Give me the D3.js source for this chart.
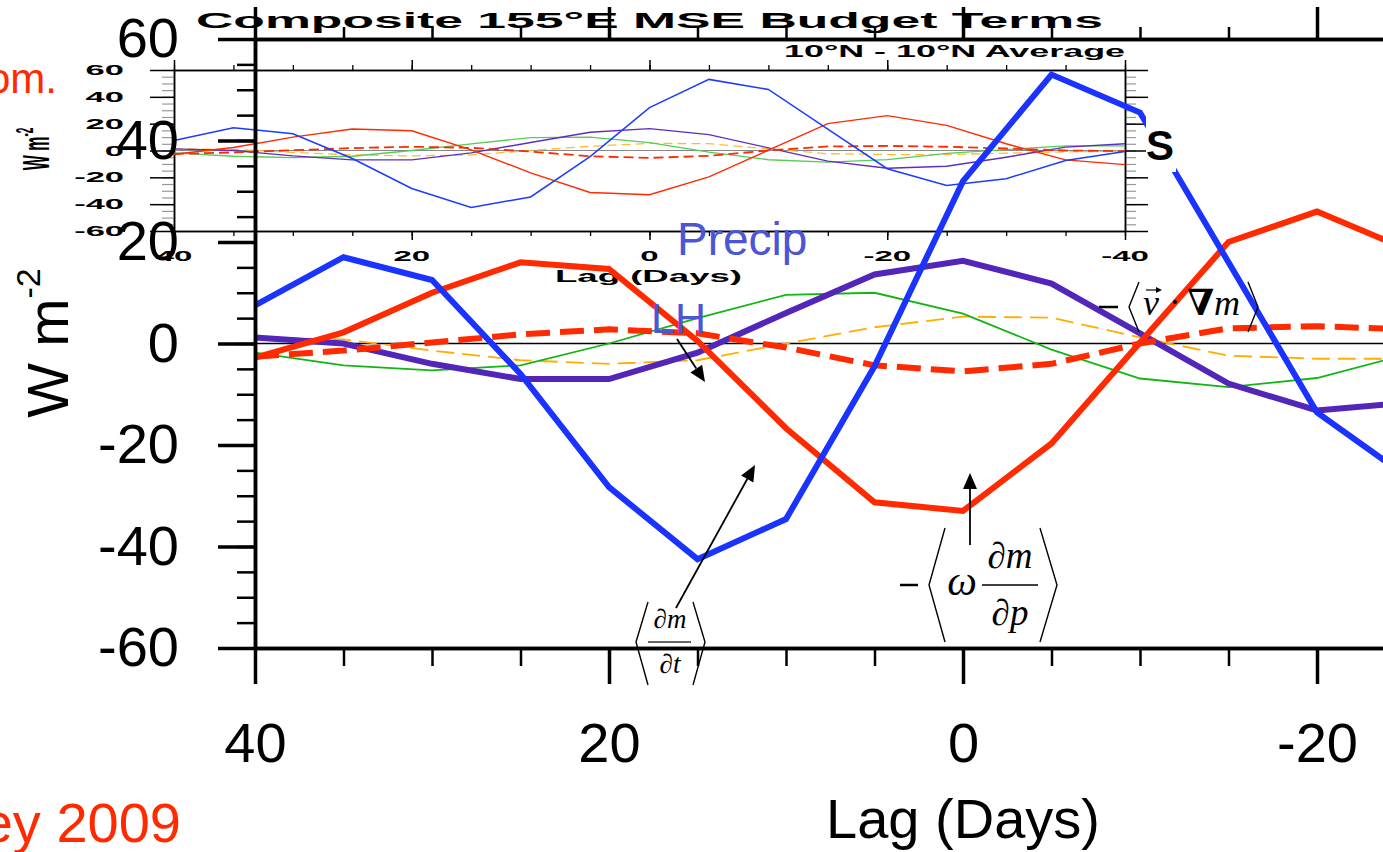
<!DOCTYPE html>
<html>
<head>
<meta charset="utf-8">
<script src="https://cdn.jsdelivr.net/npm/d3@7"></script>
<style>
  html, body { margin: 0; padding: 0; background: #fff; overflow: hidden; }
  svg { display: block; font-family: "Liberation Sans", Arial, Helvetica, sans-serif; }
</style>
</head>
<body>
<div id="chart"></div>
<script>

/* Composite 155E MSE budget terms (lag composite).
 * The big panel is a zoom of the small inset, so both use the same numbers.
 */

var lags = [40, 35, 30, 25, 20, 15, 10, 5, 0, -5, -10, -15, -20, -25, -30, -35, -40];

var dmdt       = [7.5, 17, 12.5, -6, -28.3, -42.5, -34.6, -4.5, 32, 53, 45.5, 16, -13.6, -26, -21, -7.5, -0.7];
var omegaDmdp  = [-2.8, 2.2, 10, 16, 14.7, 0.5, -16.7, -31.3, -33, -19.7, 0.2, 20, 26, 18.7, 5, -7, -10.5];
var vGradM     = [-2.6, -1.4, 0.2, 1.8, 2.8, 2, -0.8, -4.3, -5.5, -4, 0, 3, 3.4, 2.8, 1.5, 0, -0.5];
var latentHeat = [1.2, 0, -4, -7, -7, -1.8, 6, 13.6, 16.3, 11.8, 2, -7.9, -13.2, -11.7, -5, 2.5, 5];
var longwave   = [-1.8, -4.3, -5.3, -4.3, 0, 5, 9.6, 10, 5.9, -1.2, -6.9, -8.6, -6.8, -2.2, 0.7, 3.5, 3.5];
var sensible   = [1.2, 0.8, -1.4, -3.3, -4, -3.3, 0, 3.2, 5.3, 5.1, 1.2, -2.4, -3, -3, -2, -1, -0.5];

var xMajor = [40, 20, 0, -20, -40];
var xMinor = [40, 35, 30, 25, 20, 15, 10, 5, 0, -5, -10, -15, -20, -25, -30, -35, -40];
var xLabels = ["40", "20", "0", "-20", "-40"];

var yMajor = [-60, -40, -20, 0, 20, 40, 60];
var yMinor = [-60, -55, -50, -45, -40, -35, -30, -25, -20, -15, -10, -5, 0, 5, 10, 15, 20, 25, 30, 35, 40, 45, 50, 55, 60];
var yLabels = ["-60", "-40", "-20", "0", "20", "40", "60"];

var W = 1383, H = 852;

var svg = d3.select("#chart").append("svg")
    .attr("width", W)
    .attr("height", H);

var fmtX = function(d) { return xLabels[xMajor.indexOf(d)]; };
var fmtY = function(d) { return yLabels[yMajor.indexOf(d)]; };

/* series drawing order and looks, main panel / inset */
var series = [
    { vals: sensible,   color: "#ffad00", w: 1.8, dash: "18,8",  iColor: "#ffbb33", iw: 1.3, iDash: "9,5" },
    { vals: longwave,   color: "#14b414", w: 1.8, dash: null,    iColor: "#55cc55", iw: 1.3, iDash: null },
    { vals: latentHeat, color: "#5226b8", w: 6,   dash: null,    iColor: "#5a30c2", iw: 1.4, iDash: null },
    { vals: vGradM,     color: "#ff2a00", w: 6,   dash: "24,10", iColor: "#ff2a00", iw: 1.8, iDash: "10,5" },
    { vals: omegaDmdp,  color: "#ff2a00", w: 6,   dash: null,    iColor: "#ff2a00", iw: 1.4, iDash: null },
    { vals: dmdt,       color: "#1a33ff", w: 6,   dash: null,    iColor: "#1a3cff", iw: 1.5, iDash: null }
];

/* ---------------- inset (original small plot) ---------------- */

var ix = d3.scaleLinear().domain([40, -40]).range([174, 1125]);
var iy = d3.scaleLinear().domain([-60, 60]).range([231, 70]);

var inset = svg.append("g").attr("class", "inset");

var styleAxis = function(g, color, width) {
    g.select(".domain").attr("stroke", "#000").attr("stroke-width", 1.5);
    g.selectAll(".tick line").attr("stroke", color).attr("stroke-width", width);
};

// minor ticks first so majors sit on top
inset.append("g").attr("transform", "translate(" + ix(40) + ",0)")
    .call(d3.axisLeft(iy).tickValues(yMinor).tickSize(12).tickSizeOuter(0).tickFormat(""))
    .call(styleAxis, "#999", 1.2);
inset.append("g").attr("transform", "translate(" + ix(40) + ",0)")
    .call(d3.axisLeft(iy).tickValues(yMajor).tickSize(24).tickSizeOuter(0).tickFormat(""))
    .call(styleAxis, "#000", 1.5);
inset.append("g").attr("transform", "translate(" + ix(-40) + ",0)")
    .call(d3.axisRight(iy).tickValues(yMinor).tickSize(11).tickSizeOuter(0).tickFormat(""))
    .call(styleAxis, "#999", 1.2);
inset.append("g").attr("transform", "translate(" + ix(-40) + ",0)")
    .call(d3.axisRight(iy).tickValues(yMajor).tickSize(23).tickSizeOuter(0).tickFormat(""))
    .call(styleAxis, "#000", 1.5);
inset.append("g").attr("transform", "translate(0," + iy(60) + ")")
    .call(d3.axisTop(ix).tickValues(xMinor).tickSize(5).tickSizeOuter(0).tickFormat(""))
    .call(styleAxis, "#000", 1.3);
inset.append("g").attr("transform", "translate(0," + iy(60) + ")")
    .call(d3.axisTop(ix).tickValues(xMajor).tickSize(10).tickSizeOuter(0).tickFormat(""))
    .call(styleAxis, "#000", 1.5);
inset.append("g").attr("transform", "translate(0," + iy(-60) + ")")
    .call(d3.axisBottom(ix).tickValues(xMinor).tickSize(5).tickSizeOuter(0).tickFormat(""))
    .call(styleAxis, "#000", 1.3);
inset.append("g").attr("transform", "translate(0," + iy(-60) + ")")
    .call(d3.axisBottom(ix).tickValues(xMajor).tickSize(9).tickSizeOuter(0).tickFormat(""))
    .call(styleAxis, "#000", 1.5);

// inset text is stretched sideways like the squashed original
inset.selectAll("text.iylab")
    .data(yMajor)
    .enter().append("text")
    .attr("class", "iylab")
    .attr("transform", function(d) { return "translate(124," + (iy(d) + 5) + ") scale(2.3,1)"; })
    .attr("text-anchor", "end")
    .style("font-size", "15px")
    .style("font-weight", "bold")
    .text(fmtY);

inset.selectAll("text.ixlab")
    .data(xMajor)
    .enter().append("text")
    .attr("class", "ixlab")
    .attr("transform", function(d) { return "translate(" + ix(d) + ",261) scale(2.2,1)"; })
    .attr("text-anchor", "middle")
    .style("font-size", "15px")
    .style("font-weight", "bold")
    .text(fmtX);

inset.append("text")
    .attr("x", 196).attr("y", 28)
    .attr("textLength", 907).attr("lengthAdjust", "spacingAndGlyphs")
    .style("font-size", "22px").style("font-weight", "bold")
    .text("Composite 155°E MSE Budget Terms");

inset.append("text")
    .attr("x", 784).attr("y", 57)
    .attr("textLength", 341).attr("lengthAdjust", "spacingAndGlyphs")
    .style("font-size", "16px").style("font-weight", "bold")
    .text("10°N - 10°N Average");

inset.append("text")
    .attr("x", 555).attr("y", 282)
    .attr("textLength", 187).attr("lengthAdjust", "spacingAndGlyphs")
    .style("font-size", "16px").style("font-weight", "bold")
    .text("Lag (Days)");

var iyTitle = inset.append("text")
    .attr("transform", "translate(49,149) rotate(-90) scale(1,2.3)")
    .attr("text-anchor", "middle")
    .style("font-size", "16px").style("font-weight", "bold");
iyTitle.append("tspan").text("W m");
iyTitle.append("tspan").attr("dy", -7).style("font-size", "10px").text("-2");

inset.append("line")
    .attr("x1", ix(40)).attr("x2", ix(-40))
    .attr("y1", iy(0)).attr("y2", iy(0))
    .attr("stroke", "#888").attr("stroke-width", 1.2);

var iLine = d3.line()
    .x(function(d, i) { return ix(lags[i]); })
    .y(function(d) { return iy(d); });

series.forEach(function(s) {
    inset.append("path")
        .datum(s.vals)
        .attr("d", iLine)
        .attr("fill", "none")
        .attr("stroke", s.iColor)
        .attr("stroke-width", s.iw)
        .attr("stroke-dasharray", s.iDash);
});

/* ---------------- main panel ---------------- */

var x = d3.scaleLinear().domain([40, -40]).range([255, 1671]);
var y = d3.scaleLinear().domain([-60, 60]).range([648, 39]);

var main = svg.append("g").attr("class", "main");

main.append("line")
    .attr("x1", x(40)).attr("x2", x(-40))
    .attr("y1", y(0)).attr("y2", y(0))
    .attr("stroke", "#000").attr("stroke-width", 1.5);

var line = d3.line()
    .x(function(d, i) { return x(lags[i]); })
    .y(function(d) { return y(d); });

series.forEach(function(s) {
    main.append("path")
        .datum(s.vals)
        .attr("d", line)
        .attr("fill", "none")
        .attr("stroke", s.color)
        .attr("stroke-width", s.w)
        .attr("stroke-dasharray", s.dash)
        .attr("stroke-linejoin", "miter");
});

// the "S" label sits on a white patch over the blue line
main.append("rect")
    .attr("x", 1146).attr("y", 112).attr("width", 30).attr("height", 60)
    .attr("fill", "#fff");
main.append("text")
    .attr("x", 1146).attr("y", 160)
    .style("font-size", "42px").style("font-weight", "bold")
    .text("S");

var mainAxis = function(g, width) {
    g.select(".domain").attr("stroke", "#000").attr("stroke-width", 3.5);
    g.selectAll(".tick line").attr("stroke", "#000").attr("stroke-width", width);
    g.selectAll(".tick text")
        .attr("fill", "#000")
        .style("font-family", "'Liberation Sans', Arial, sans-serif")
        .style("font-size", "56px");
};

main.append("g").attr("transform", "translate(" + x(40) + ",0)")
    .call(d3.axisLeft(y).tickValues(yMinor).tickSize(18).tickSizeOuter(0).tickFormat(""))
    .call(mainAxis, 2.5);
main.append("g").attr("transform", "translate(" + x(40) + ",0)")
    .call(d3.axisLeft(y).tickValues(yMajor).tickSize(37).tickPadding(39).tickSizeOuter(0).tickFormat(fmtY))
    .call(mainAxis, 3.5);
main.append("g").attr("transform", "translate(0," + y(60) + ")")
    .call(d3.axisTop(x).tickValues(xMinor).tickSize(12).tickSizeOuter(0).tickFormat(""))
    .call(mainAxis, 2.5);
main.append("g").attr("transform", "translate(0," + y(60) + ")")
    .call(d3.axisTop(x).tickValues(xMajor).tickSize(32).tickSizeOuter(0).tickFormat(""))
    .call(mainAxis, 3.5);
main.append("g").attr("transform", "translate(0," + y(-60) + ")")
    .call(d3.axisBottom(x).tickValues(xMinor).tickSize(18).tickSizeOuter(0).tickFormat(""))
    .call(mainAxis, 2.5);
main.append("g").attr("transform", "translate(0," + y(-60) + ")")
    .call(d3.axisBottom(x).tickValues(xMajor).tickSize(36).tickPadding(38).tickSizeOuter(0).tickFormat(fmtX))
    .call(mainAxis, 3.5);

main.append("text")
    .attr("x", x(0)).attr("y", 838)
    .attr("text-anchor", "middle")
    .style("font-size", "56px")
    .text("Lag (Days)");

var yTitle = main.append("text")
    .attr("transform", "translate(68,343) rotate(-90)")
    .attr("text-anchor", "middle")
    .style("font-size", "58px");
yTitle.append("tspan").text("W m");
yTitle.append("tspan").attr("dy", -28).style("font-size", "34px").text("-2");

/* ---------------- annotations ---------------- */

var labelBlue = "#4b55d6";

main.append("text")
    .attr("x", 677).attr("y", 255)
    .attr("fill", labelBlue)
    .style("font-size", "46px")
    .text("Precip");

main.append("text")
    .attr("x", 651).attr("y", 333)
    .attr("fill", labelBlue)
    .style("font-size", "43px")
    .text("LH");

var arrow = function(x1, y1, x2, y2) {
    var a = Math.atan2(y2 - y1, x2 - x1),
        len = 16, half = 7;
    var bx = x2 - len * Math.cos(a), by = y2 - len * Math.sin(a);
    main.append("line")
        .attr("x1", x1).attr("y1", y1).attr("x2", bx).attr("y2", by)
        .attr("stroke", "#000").attr("stroke-width", 1.8);
    main.append("path")
        .attr("d", "M" + x2 + "," + y2 +
            "L" + (bx + half * Math.sin(a)) + "," + (by - half * Math.cos(a)) +
            "L" + (bx - half * Math.sin(a)) + "," + (by + half * Math.cos(a)) + "Z")
        .attr("fill", "#000");
};

arrow(677, 339, 705, 382);
arrow(676, 608, 755, 465);
arrow(970, 545, 970, 473);

var serif = "'Liberation Serif', 'DejaVu Serif', 'Times New Roman', serif";

var mathText = function(g, tx, ty, size, str, anchor, weight, style) {
    return g.append("text")
        .attr("x", tx).attr("y", ty)
        .attr("text-anchor", anchor || "middle")
        .style("font-family", serif)
        .style("font-size", size + "px")
        .style("font-style", style || "italic")
        .style("font-weight", weight || "normal")
        .text(str);
};

var bracket = function(g, pts, w) {
    g.append("path")
        .attr("d", d3.line()(pts))
        .attr("fill", "none")
        .attr("stroke", "#000")
        .attr("stroke-width", w || 1.4);
};

// < dm/dt >
var gT = main.append("g").attr("transform", "translate(670,642)");
mathText(gT, 0, -14, 27, "∂m");
gT.append("line").attr("x1", -22).attr("x2", 21).attr("y1", 0).attr("y2", 0)
    .attr("stroke", "#666").attr("stroke-width", 2);
mathText(gT, 0, 31, 27, "∂t");
bracket(gT, [[-22, -40], [-34, 0], [-22, 43]]);
bracket(gT, [[23, -40], [35, 0], [23, 43]]);

// - < omega dm/dp >
var gW = main.append("g").attr("transform", "translate(1010,585)");
gW.append("line").attr("x1", -110).attr("x2", -92).attr("y1", 0).attr("y2", 0)
    .attr("stroke", "#000").attr("stroke-width", 2.5);
bracket(gW, [[-65, -57], [-81, 0], [-65, 57]]);
mathText(gW, -48, 10, 42, "ω");
mathText(gW, 0, -17, 37, "∂m");
gW.append("line").attr("x1", -28).attr("x2", 28).attr("y1", 0).attr("y2", 0)
    .attr("stroke", "#000").attr("stroke-width", 1.5);
mathText(gW, 0, 40, 37, "∂p");
bracket(gW, [[30, -57], [47, 0], [30, 57]]);

// - < v . grad m >
var gV = main.append("g").attr("transform", "translate(1099,307)");
gV.append("line").attr("x1", 0).attr("x2", 19).attr("y1", 0).attr("y2", 0)
    .attr("stroke", "#000").attr("stroke-width", 2.5);
bracket(gV, [[40, -25], [30, 0], [40, 25]]);
mathText(gV, 44, 8, 36, "v", "start");
gV.append("line").attr("x1", 47).attr("x2", 60).attr("y1", -17).attr("y2", -17)
    .attr("stroke", "#000").attr("stroke-width", 1.2);
gV.append("path").attr("d", "M63,-17L57,-20L57,-14Z").attr("fill", "#000");
gV.append("circle").attr("cx", 76).attr("cy", -5).attr("r", 2).attr("fill", "#000");
mathText(gV, 88, 8, 36, "∇", "start", "bold", "normal");
mathText(gV, 115, 8, 36, "m", "start");
bracket(gV, [[149, -25], [159, 0], [149, 25]]);

/* cut-off slide text at the left edge */
svg.append("text")
    .attr("x", 57).attr("y", 93)
    .attr("text-anchor", "end")
    .attr("fill", "#ff2a00")
    .style("font-size", "42px")
    .text("from.");

svg.append("text")
    .attr("x", 181).attr("y", 842)
    .attr("text-anchor", "end")
    .attr("fill", "#ff2a00")
    .style("font-size", "56px")
    .text("Maloney 2009");

</script>
</body>
</html>
